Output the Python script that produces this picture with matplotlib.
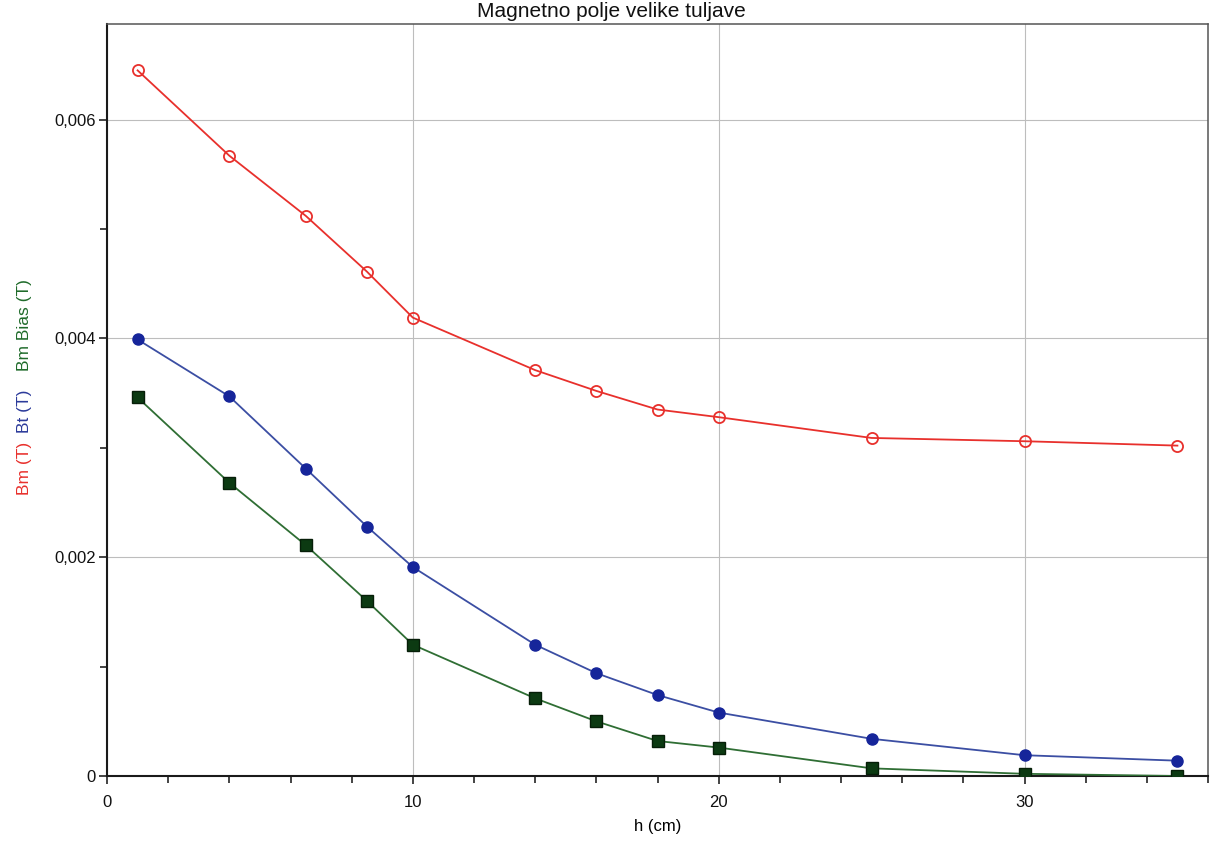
import matplotlib
matplotlib.use("Agg")
import matplotlib.pyplot as plt
from matplotlib.ticker import MultipleLocator, FixedLocator, FixedFormatter

plt.rcParams['font.family'] = ['Liberation Sans', 'DejaVu Sans']

# ---- data ----
h_cm = [1, 4, 6.5, 8.5, 10, 14, 16, 18, 20, 25, 30, 35]
bm = [0.00645, 0.00567, 0.00512, 0.00461, 0.00419, 0.00371, 0.00352,
      0.00335, 0.00328, 0.00309, 0.00306, 0.00302]
bt = [0.00399, 0.00347, 0.00281, 0.00228, 0.00191, 0.00120, 0.00094,
      0.00074, 0.00058, 0.00034, 0.00019, 0.00014]
bm_bias = [0.00346, 0.00268, 0.00211, 0.00160, 0.00120, 0.00071, 0.00050,
           0.00032, 0.00026, 0.00007, 0.00002, 0.00000]

title = "Magnetno polje velike tuljave"
x_label = "h (cm)"
y_labels = ["Bm (T)", "Bt (T)", "Bm Bias (T)"]
y_tick_values = [0, 0.002, 0.004, 0.006]
y_tick_labels = ["0", "0,002", "0,004", "0,006"]
x_tick_values = [0, 10, 20, 30]
x_tick_labels = ["0", "10", "20", "30"]

W, H = 1216, 847
TOP = 24
fig = plt.figure(figsize=(W / 100, H / 100), dpi=100)
ax = fig.add_axes([107 / W, (H - 776) / H, (1208 - 107) / W, (776 - TOP) / H])

red = "#e8302c"
blue_line = "#3b4ea3"
blue_mk = "#16259a"
green_line = "#2f6e34"
green_mk = "#0c3a12"

ax.plot(h_cm, bm, color=red, lw=1.3, marker="o", ms=8, mfc="none",
        mec=red, mew=1.3, zorder=3)
ax.plot(h_cm, bt, color=blue_line, lw=1.3, marker="o", ms=8, mfc=blue_mk,
        mec=blue_mk, zorder=3)
ax.plot(h_cm, bm_bias, color=green_line, lw=1.3, marker="s", ms=8,
        mfc=green_mk, mec="#061e08", zorder=3)

ax.set_xlim(0, 36)
ax.set_ylim(0, (776 - TOP) / 109.4 * 0.001)

ax.xaxis.set_major_locator(FixedLocator(x_tick_values))
ax.xaxis.set_major_formatter(FixedFormatter(x_tick_labels))
ax.xaxis.set_minor_locator(MultipleLocator(2))
ax.yaxis.set_major_locator(FixedLocator(y_tick_values))
ax.yaxis.set_major_formatter(FixedFormatter(y_tick_labels))
ax.yaxis.set_minor_locator(MultipleLocator(0.001))

ax.tick_params(axis="both", which="major", direction="out", length=6,
               width=1.1, labelsize=12, colors="#111111")
ax.tick_params(axis="both", which="minor", direction="out", length=5,
               width=1.1, colors="#111111")
ax.tick_params(axis="x", pad=8)
ax.tick_params(axis="y", pad=2)

ax.grid(True, which="major", color="#bdbdbd", lw=0.8)
ax.set_axisbelow(True)

for side in ("left", "bottom"):
    ax.spines[side].set_color("#1a1a1a")
    ax.spines[side].set_linewidth(1.5)
for side in ("top", "right"):
    ax.spines[side].set_color("#555555")
    ax.spines[side].set_linewidth(1.1)

ax.set_xlabel(x_label, fontsize=12, labelpad=6)

# coloured y-labels stacked along the left side
ycols = [red, "#2b3a9a", "#1f6b2a"]
ycent = [468, 411, 325]
for txt, c, yc in zip(y_labels, ycols, ycent):
    fig.text(25 / W, 1 - yc / H, txt, color=c, rotation=90, fontsize=12.5,
             ha="center", va="center")

fig.text(611 / W, 1 - 2 / H, title, fontsize=15, ha="center",
         va="top", color="#111111")

fig.savefig("out.png", dpi=100)
